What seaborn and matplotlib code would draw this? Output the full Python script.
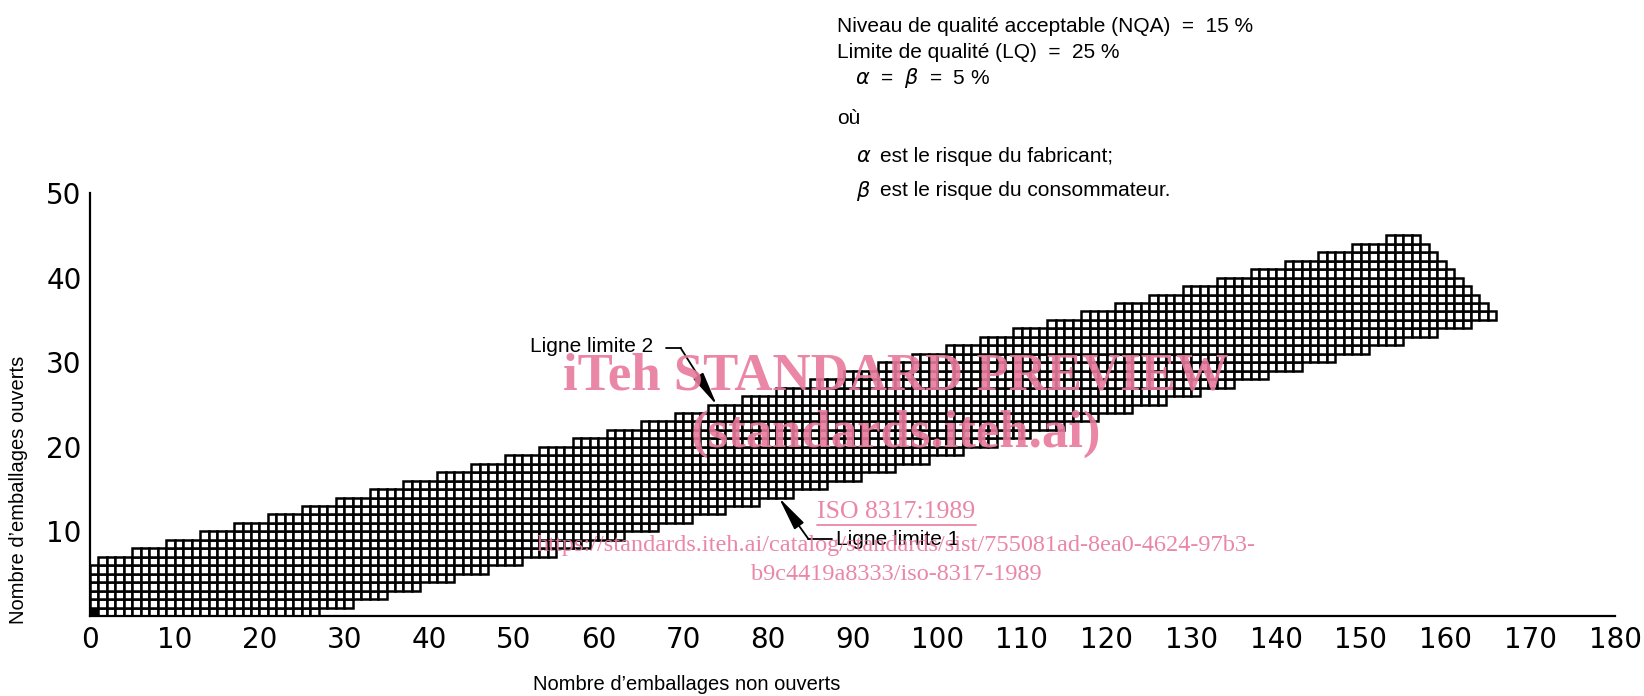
import matplotlib
matplotlib.use("Agg")
import matplotlib.pyplot as plt
import seaborn as sns
from matplotlib.patches import ArrowStyle

# band of the sequential plan: for every column x = 0..165 the lowest cell
# and the top edge (exclusive) of the continuation region
upper = [6, 7, 7, 7, 7, 8, 8, 8, 8, 9,
         9, 9, 9, 10, 10, 10, 10, 11, 11, 11,
         11, 12, 12, 12, 12, 13, 13, 13, 13, 14,
         14, 14, 14, 15, 15, 15, 15, 16, 16, 16,
         16, 17, 17, 17, 17, 18, 18, 18, 18, 19,
         19, 19, 19, 20, 20, 20, 20, 21, 21, 21,
         21, 22, 22, 22, 22, 23, 23, 23, 23, 24,
         24, 24, 24, 25, 25, 25, 25, 26, 26, 26,
         26, 27, 27, 27, 27, 28, 28, 28, 28, 29,
         29, 29, 29, 30, 30, 30, 30, 31, 31, 31,
         31, 32, 32, 32, 32, 33, 33, 33, 33, 34,
         34, 34, 34, 35, 35, 35, 35, 36, 36, 36,
         36, 37, 37, 37, 37, 38, 38, 38, 38, 39,
         39, 39, 39, 40, 40, 40, 40, 41, 41, 41,
         41, 42, 42, 42, 42, 43, 43, 43, 43, 44,
         44, 44, 44, 45, 45, 45, 45, 44, 43, 42,
         41, 40, 39, 38, 37, 36]
lower = [0, 0, 0, 0, 0, 0, 0, 0, 0, 0,
         0, 0, 0, 0, 0, 0, 0, 0, 0, 0,
         0, 0, 0, 0, 0, 0, 0, 1, 1, 1,
         1, 2, 2, 2, 2, 3, 3, 3, 3, 4,
         4, 4, 4, 5, 5, 5, 5, 6, 6, 6,
         6, 7, 7, 7, 7, 8, 8, 8, 8, 9,
         9, 9, 9, 10, 10, 10, 10, 11, 11, 11,
         11, 12, 12, 12, 12, 13, 13, 13, 13, 14,
         14, 14, 14, 15, 15, 15, 15, 16, 16, 16,
         16, 17, 17, 17, 17, 18, 18, 18, 18, 19,
         19, 19, 19, 20, 20, 20, 20, 21, 21, 21,
         21, 22, 22, 22, 22, 23, 23, 23, 23, 24,
         24, 24, 24, 25, 25, 25, 25, 26, 26, 26,
         26, 27, 27, 27, 27, 28, 28, 28, 28, 29,
         29, 29, 29, 30, 30, 30, 30, 31, 31, 31,
         31, 32, 32, 32, 32, 33, 33, 33, 33, 34,
         34, 34, 34, 35, 35, 35]
x_ticks = list(range(0, 181, 10))
y_ticks = [10, 20, 30, 40, 50]

header_lines = ["Niveau de qualité acceptable (NQA)  =  15 %",
                "Limite de qualité (LQ)  =  25 %"]
watermark = ["iTeh STANDARD PREVIEW", "(standards.iteh.ai)"]
watermark_small = ["ISO 8317:1989",
                   "https://standards.iteh.ai/catalog/standards/sist/755081ad-8ea0-4624-97b3-",
                   "b9c4419a8333/iso-8317-1989"]

W, H = 1644, 696
sns.set_theme(style="white")
plt.rcParams["font.family"] = ["Liberation Sans", "DejaVu Sans"]
plt.rcParams["text.color"] = "black"
plt.rcParams["axes.labelcolor"] = "black"

fig = plt.figure(figsize=(W / 100, H / 100), dpi=100)
ax = fig.add_axes([90 / W, 1 - 616 / H, 1525 / W, 423 / H])

xs, ys, cols = [], [], []
for x, (lo, hi) in enumerate(zip(lower, upper)):
    for y in range(lo, hi):
        xs.append(x)
        ys.append(y)
        cols.append("black" if (x, y) == (0, 0) else "white")
ax.bar(xs, 1, width=1, bottom=ys, align="edge", color=cols,
       edgecolor="black", linewidth=1.8, zorder=2)

ax.set_xlim(0, 180)
ax.set_ylim(0, 50)
ax.set_xticks(x_ticks)
ax.set_yticks(y_ticks)
tick_font = ["Liberation Sans Narrow", "DejaVu Sans"]
ax.set_xticklabels([str(t) for t in x_ticks], family=tick_font, fontsize=20)
ax.set_yticklabels([str(t) for t in y_ticks], family=tick_font, fontsize=20)
ax.tick_params(axis="x", direction="in", length=8, width=1.3, pad=7, colors="black")
ax.tick_params(axis="y", direction="in", length=7, width=1.3, pad=6, colors="black")
sns.despine(ax=ax)
for s in ["left", "bottom"]:
    ax.spines[s].set_linewidth(1.6)
    ax.spines[s].set_color("black")
ax.set_facecolor("white")

# annotations
head = ArrowStyle("-|>", head_length=1.3, head_width=0.22)
ax.text(66.5, 31.8, "Ligne limite 2", ha="right", va="center", fontsize=15, zorder=5)
ax.plot([68.0, 69.7], [31.7, 31.7], color="black", lw=1.3, zorder=5)
ax.annotate("", xy=(74.0, 24.9), xytext=(69.7, 31.7),
            arrowprops=dict(arrowstyle=head, color="black", lw=1.3,
                            mutation_scale=16, shrinkA=0, shrinkB=0), zorder=5)
ax.text(88.0, 9.0, "Ligne limite 1", ha="left", va="center", fontsize=15, zorder=5)
ax.plot([84.8, 87.6], [9.1, 9.1], color="black", lw=1.3, zorder=5)
ax.annotate("", xy=(81.3, 14.0), xytext=(84.8, 9.1),
            arrowprops=dict(arrowstyle=head, color="black", lw=1.3,
                            mutation_scale=16, shrinkA=0, shrinkB=0), zorder=5)

# axis titles
fig.text(19 / W, 1 - 490 / H, "Nombre d’emballages ouverts", rotation=90,
         ha="center", va="center", fontsize=14.5)
fig.text(687 / W, 1 - 685 / H, "Nombre d’emballages non ouverts",
         ha="center", va="center", fontsize=14.5)

# header block
fs = 15
fig.text(837 / W, 1 - 27 / H, header_lines[0], va="center", fontsize=fs)
fig.text(837 / W, 1 - 53 / H, header_lines[1], va="center", fontsize=fs)
fig.text(855 / W, 1 - 78 / H, r"$\alpha$  =  $\beta$  =  5 %", va="center", fontsize=fs)
fig.text(837 / W, 1 - 118 / H, "où", va="center", fontsize=fs)
fig.text(856 / W, 1 - 156 / H, r"$\alpha$", va="center", fontsize=fs)
fig.text(880 / W, 1 - 156 / H, "est le risque du fabricant;", va="center", fontsize=fs)
fig.text(856 / W, 1 - 191 / H, r"$\beta$", va="center", fontsize=fs)
fig.text(880 / W, 1 - 191 / H, "est le risque du consommateur.", va="center", fontsize=fs)

# watermark
pink = "#e8799c"
serif = ["Liberation Serif", "DejaVu Serif"]
fig.text(896 / W, 1 - 376 / H, watermark[0], ha="center", va="center", family=serif,
         fontweight="bold", fontsize=38, color=pink, alpha=0.9, zorder=4)
fig.text(896 / W, 1 - 434 / H, watermark[1], ha="center", va="center", family=serif,
         fontweight="bold", fontsize=38, color=pink, alpha=0.9, zorder=4)
fig.text(896 / W, 1 - 512 / H, watermark_small[0], ha="center", va="center", family=serif,
         fontsize=18.5, color=pink, alpha=0.9, zorder=4)
fig.text(896 / W, 1 - 545 / H, watermark_small[1], ha="center", va="center", family=serif,
         fontsize=17.5, color=pink, alpha=0.9, zorder=4)
fig.text(896 / W, 1 - 575 / H, watermark_small[2], ha="center", va="center", family=serif,
         fontsize=17.5, color=pink, alpha=0.9, zorder=4)
fig.add_artist(plt.Line2D([817 / W, 976 / W], [1 - 525 / H, 1 - 525 / H],
                          color=pink, lw=1.3, alpha=0.9))

fig.savefig("out.png", dpi=100, facecolor="white")
